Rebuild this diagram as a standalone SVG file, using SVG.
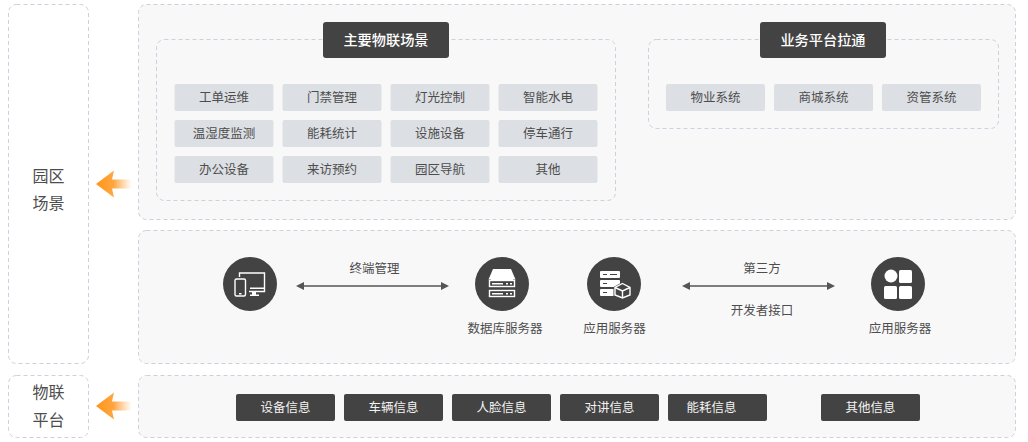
<svg xmlns="http://www.w3.org/2000/svg" width="1028" height="442" viewBox="0 0 1028 442">
<style>
text{font-family:"Liberation Sans","Noto Sans CJK SC",sans-serif;text-anchor:middle}
.o{fill:#fff;stroke:#cfcfe0;stroke-dasharray:4 3}
.p{fill:#f8f8f9;stroke:#cfcfe0;stroke-dasharray:4 3}
.i{fill:none;stroke:#cfcfe0;stroke-dasharray:4 3}
.c rect{fill:#dcdfe3}
.c text{font-size:12.500px;fill:#4d4d4d}
.d rect{fill:#434343}
.d text{font-size:12.500px;fill:#f2f2f2}
.h rect{fill:#434343}
.h text{font-size:14.200px;fill:#fff;font-weight:500}
.s text{font-size:16px;fill:#4d4d4d}
.l{font-size:12.500px;fill:#4d4d4d}
.w{fill:#fff}
.k{fill:#434343}
.st{fill:none;stroke:#fff;stroke-width:1.400}
.ln{stroke:#555;stroke-width:1.600;fill:none;marker-start:url(#a);marker-end:url(#a)}
</style>
<defs>
<linearGradient id="g" gradientUnits="userSpaceOnUse" x1="96" y1="0" x2="131" y2="0"><stop offset="0" stop-color="#ff9418"/><stop offset="0.5" stop-color="#ffa640"/><stop offset="1" stop-color="#ffb060" stop-opacity="0.05"/></linearGradient>
<marker id="a" viewBox="0 0 8 8" refX="4" refY="4" markerWidth="8" markerHeight="8" markerUnits="userSpaceOnUse" orient="auto-start-reverse"><path d="M0 0L8 4L0 8Z" fill="#555"/></marker>
<path id="oa" d="M96 0L114-13.500L112-4.500H131V4.500H112L114 13.500Z" fill="url(#g)"/>
</defs>

<g id="panels">
<rect class="o" x="8.500" y="4.500" width="80" height="359" rx="8"/>
<rect class="o" x="8.500" y="375.500" width="80" height="62" rx="8"/>
<rect class="p" x="138.500" y="4.500" width="877" height="215" rx="8"/>
<rect class="p" x="138.500" y="230.500" width="877" height="133" rx="8"/>
<rect class="p" x="138.500" y="375.500" width="877" height="62" rx="8"/>
<rect class="i" x="156.500" y="39.500" width="459" height="161" rx="8"/>
<rect class="i" x="648.500" y="39.500" width="350" height="89" rx="8"/>
</g>

<g id="side-park" class="s"><text x="48.500" y="182">园区</text><text x="48.500" y="209">场景</text></g>
<g id="side-iot" class="s"><text x="48.500" y="398">物联</text><text x="48.500" y="426">平台</text></g>
<g id="arrow-park"><use href="#oa" y="184"/></g>
<g id="arrow-iot"><use href="#oa" y="406"/></g>

<g id="head-main" class="h"><rect x="323" y="22" width="126" height="36" rx="3"/><text x="386" y="45">主要物联场景</text></g>
<g id="head-biz" class="h"><rect x="760" y="22" width="126" height="36" rx="3"/><text x="823" y="45">业务平台拉通</text></g>

<g id="c1" class="c"><rect x="174.500" y="84" width="99" height="27" rx="2"/><text x="224" y="102">工单运维</text></g>
<g id="c2" class="c"><rect x="282.500" y="84" width="99" height="27" rx="2"/><text x="332" y="102">门禁管理</text></g>
<g id="c3" class="c"><rect x="390.500" y="84" width="99" height="27" rx="2"/><text x="440" y="102">灯光控制</text></g>
<g id="c4" class="c"><rect x="498.500" y="84" width="99" height="27" rx="2"/><text x="548" y="102">智能水电</text></g>
<g id="c5" class="c"><rect x="174.500" y="120" width="99" height="27" rx="2"/><text x="224" y="138">温湿度监测</text></g>
<g id="c6" class="c"><rect x="282.500" y="120" width="99" height="27" rx="2"/><text x="332" y="138">能耗统计</text></g>
<g id="c7" class="c"><rect x="390.500" y="120" width="99" height="27" rx="2"/><text x="440" y="138">设施设备</text></g>
<g id="c8" class="c"><rect x="498.500" y="120" width="99" height="27" rx="2"/><text x="548" y="138">停车通行</text></g>
<g id="c9" class="c"><rect x="174.500" y="156" width="99" height="27" rx="2"/><text x="224" y="174">办公设备</text></g>
<g id="c10" class="c"><rect x="282.500" y="156" width="99" height="27" rx="2"/><text x="332" y="174">来访预约</text></g>
<g id="c11" class="c"><rect x="390.500" y="156" width="99" height="27" rx="2"/><text x="440" y="174">园区导航</text></g>
<g id="c12" class="c"><rect x="498.500" y="156" width="99" height="27" rx="2"/><text x="548" y="174">其他</text></g>

<g id="b1" class="c"><rect x="666" y="84" width="99" height="27" rx="2"/><text x="715.500" y="102">物业系统</text></g>
<g id="b2" class="c"><rect x="774" y="84" width="99" height="27" rx="2"/><text x="823.500" y="102">商城系统</text></g>
<g id="b3" class="c"><rect x="882" y="84" width="99" height="27" rx="2"/><text x="931.500" y="102">资管系统</text></g>

<g id="icon-terminal">
<circle class="k" cx="250" cy="284" r="27"/>
<path class="st" d="M239.500 277V273H264.500V291.500H249"/>
<path class="w" d="M250 287.500H264V289H250ZM252 291.500H256V294.500H259V296H250V294.500H252Z"/>
<rect class="st" x="235" y="279" width="10.500" height="17" rx="1.500" stroke-width="1.600"/>
<rect class="w" x="239" y="293" width="2.500" height="1.500"/>
</g>
<g id="icon-db">
<circle class="k" cx="502" cy="284" r="27"/>
<path class="w" d="M493 269H511L515.500 279.500H488.500Z"/>
<rect class="st" x="489.500" y="280.500" width="25" height="6"/>
<rect class="st" x="489.500" y="290.500" width="25" height="6"/>
<path class="w" d="M491 279H513V281H491ZM492 283H503V284.500H492ZM506 283H508V284.500H506ZM510 283H512V284.500H510ZM492 293H503V294.500H492ZM506 293H508V294.500H506ZM510 293H512V294.500H510Z"/>
</g>
<g id="icon-app">
<circle class="k" cx="614" cy="284" r="27"/>
<rect class="w" x="600" y="271" width="20" height="7" rx="1"/>
<rect class="w" x="600" y="280" width="20" height="7" rx="1"/>
<rect class="w" x="600" y="289" width="20" height="7" rx="1"/>
<path class="k" d="M603 274H607V275H603ZM610 274H617V275H610ZM603 283H607V284H603ZM603 292H607V293H603Z"/>
<path d="M622.500 282L631.500 287V296L622.500 299L613.500 296V287Z" fill="#434343"/>
<path class="st" d="M622.500 283.500L630 287.500V295L622.500 298L615 295V287.500Z"/>
<path class="st" d="M615 287.500L622.500 291L630 287.500M622.500 291V298"/>
</g>
<g id="icon-grid">
<circle class="k" cx="898" cy="284" r="27"/>
<circle class="w" cx="891" cy="276" r="6.500"/>
<rect class="w" x="899" y="270" width="13" height="13" rx="1.500"/>
<rect class="w" x="884" y="286" width="13" height="13" rx="1.500"/>
<rect class="w" x="899" y="286" width="13" height="13" rx="1.500"/>
</g>

<g id="connectors">
<line class="ln" x1="300" y1="286" x2="445" y2="286"/>
<line class="ln" x1="686" y1="286" x2="831" y2="286"/>
</g>

<g id="labels">
<text class="l" x="374.500" y="272.500">终端管理</text>
<text class="l" x="505" y="332.500">数据库服务器</text>
<text class="l" x="614.500" y="332.500">应用服务器</text>
<text class="l" x="762" y="272.500">第三方</text>
<text class="l" x="762" y="314.500">开发者接口</text>
<text class="l" x="900" y="332.500">应用服务器</text>
</g>

<g id="d1" class="d"><rect x="236" y="394" width="99" height="27" rx="2"/><text x="285.500" y="412">设备信息</text></g>
<g id="d2" class="d"><rect x="344" y="394" width="99" height="27" rx="2"/><text x="393.500" y="412">车辆信息</text></g>
<g id="d3" class="d"><rect x="452" y="394" width="99" height="27" rx="2"/><text x="501.500" y="412">人脸信息</text></g>
<g id="d4" class="d"><rect x="560" y="394" width="99" height="27" rx="2"/><text x="609.500" y="412">对讲信息</text></g>
<g id="d5" class="d"><rect x="668" y="394" width="99" height="27" rx="2"/><text x="711.500" y="412">能耗信息</text></g>
<g id="d6" class="d"><rect x="821" y="394" width="99" height="27" rx="2"/><text x="870.500" y="412">其他信息</text></g>
</svg>
